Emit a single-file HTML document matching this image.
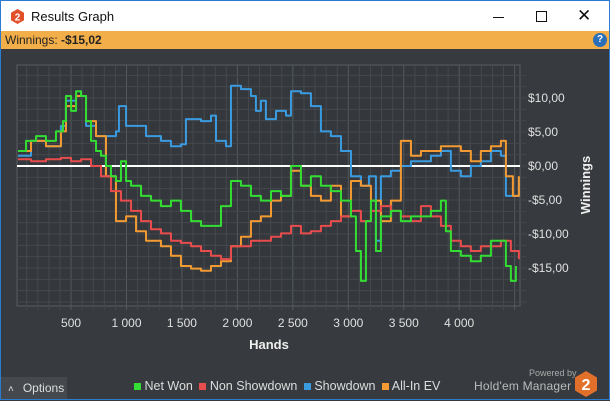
<!DOCTYPE html>
<html><head><meta charset="utf-8">
<style>
body{margin:0;width:610px;height:400px;overflow:hidden;font-family:"Liberation Sans",sans-serif;background:#373a3e;position:relative}
#win{position:absolute;left:0;top:0;width:608px;height:398px;border:1px solid #2b7bd0;background:#373a3e}
#title{position:absolute;left:0;top:0;width:608px;height:30px;background:#fff}
#bar{position:absolute;left:0;top:30px;width:608px;height:18px;background:#f2ae48;font-size:12px;color:#222;line-height:18px}
</style></head><body>
<div id="win">
<div id="title">
 <svg style="position:absolute;left:9px;top:8px" width="15" height="15"><polygon points="7.5,0 14,3.7 14,11.3 7.5,15 1,11.3 1,3.7" fill="#e2502b"/><text x="7.5" y="11.5" font-size="10" font-weight="bold" fill="#fff" text-anchor="middle" font-family="Liberation Sans">2</text></svg>
 <span style="position:absolute;left:30px;top:8px;font-size:13px;color:#111">Results Graph</span>
 <div style="position:absolute;left:492px;top:16px;width:11px;height:1px;background:#111"></div>
 <div style="position:absolute;left:535px;top:10px;width:9px;height:9px;border:1px solid #111"></div>
 <span style="position:absolute;left:576px;top:5px;font-size:17px;color:#111">✕</span>
</div>
<div id="bar"><span style="margin-left:4px">Winnings: <b>-$15,02</b></span>
 <div style="position:absolute;left:592px;top:2px;width:14px;height:14px;border-radius:50%;background:#2a6fb8;color:#fff;font-size:10px;font-weight:bold;text-align:center;line-height:14px">?</div>
</div>
<svg id="chart" style="position:absolute;left:0;top:0" width="608" height="398"></svg>
<div style="position:absolute;left:0;top:376px;width:66px;height:22px;background:#45494d;color:#ddd;font-size:12px;line-height:22px"><span style="margin-left:7px;font-size:10px">˄</span><span style="margin-left:9px">Options</span></div>
<div style="position:absolute;left:133px;top:378px;font-size:12.5px;color:#ddd;white-space:nowrap">
 <span><span style="display:inline-block;width:7px;height:7px;background:#33dd33"></span> Net Won</span>
 <span style="margin-left:3px"><span style="display:inline-block;width:7px;height:7px;background:#e84c4c"></span> Non Showdown</span>
 <span style="margin-left:3px"><span style="display:inline-block;width:7px;height:7px;background:#3a9be0"></span> Showdown</span>
 <span style="margin-left:3px"><span style="display:inline-block;width:7px;height:7px;background:#f39a32"></span> All-In EV</span>
</div>
<div style="position:absolute;left:528px;top:367px;font-size:9px;color:#aaa">Powered by</div>
<div style="position:absolute;left:473px;top:378px;font-size:12px;color:#bbb;letter-spacing:0.2px">Hold'em Manager</div>
<svg style="position:absolute;left:573px;top:370px" width="24" height="26"><polygon points="12,0 23,6.5 23,19.5 12,26 1,19.5 1,6.5" fill="#e2702b"/><text x="12" y="19" font-size="16" font-weight="bold" fill="#fff" text-anchor="middle" font-family="Liberation Sans">2</text></svg>
</div>
<script>
const xTicks=[500,1000,1500,2000,2500,3000,3500,4000];
const xTickLabels=["500","1 000","1 500","2 000","2 500","3 000","3 500","4 000"];
const yTicks=[10,5,0,-5,-10,-15];
const yTickLabels=["$10,00","$5,00","$0,00","-$5,00","-$10,00","-$15,00"];
const netHands=[22,94,184,274,364,427,454,500,545,590,635,680,725,770,815,860,905,950,996,1041,1131,1221,1311,1401,1491,1582,1672,1762,1852,1942,2032,2122,2212,2303,2393,2483,2573,2663,2753,2843,2934,3024,3069,3114,3159,3204,3249,3294,3384,3474,3565,3655,3745,3835,3880,3925,4015,4105,4195,4286,4376,4421,4466,4511];
const netWon=[2.2,3.7,4.4,3.7,5.1,6.6,10.3,8.1,11.0,10.3,6.6,3.7,2.2,1.5,0,-1.5,-2.2,0.7,-2.2,-2.9,-4.4,-5.1,-5.9,-5.1,-6.6,-8.1,-8.8,-8.8,-5.9,-2.2,-2.9,-4.4,-5.1,-3.7,-4.4,0,-2.9,-1.5,-2.9,-3.7,-5.1,-7.4,-12.5,-16.9,-8.1,-5.1,-12.5,-7.4,-6.6,-8.1,-7.4,-7.4,-6.6,-5.1,-9.6,-12.5,-13.2,-14.0,-13.2,-11.0,-11.0,-14.7,-16.9,-14.7];
const nsdHands=[22,139,274,409,500,590,680,770,860,950,1041,1131,1221,1311,1401,1491,1582,1672,1762,1852,1942,2032,2122,2212,2303,2393,2483,2573,2663,2753,2843,2934,3024,3114,3204,3294,3384,3474,3565,3655,3745,3835,3925,4015,4105,4195,4286,4376,4466,4538];
const nonShowdown=[1.0,0.7,1.0,1.2,0.7,1.0,0,-1.5,-3.7,-5.1,-6.6,-8.1,-9.3,-9.9,-11.0,-11.3,-11.8,-12.5,-13.2,-13.7,-11.8,-11.8,-11.0,-11.0,-10.4,-9.9,-8.8,-9.9,-9.6,-8.8,-8.1,-7.4,-6.6,-8.1,-6.6,-5.9,-6.6,-7.4,-8.1,-5.9,-7.4,-8.8,-11.0,-11.8,-12.5,-11.8,-11.8,-11.0,-12.5,-13.7];
const sdHands=[22,139,274,409,454,545,635,725,815,905,932,996,1086,1176,1311,1401,1491,1536,1582,1672,1762,1807,1897,1942,2032,2122,2167,2212,2257,2348,2438,2483,2573,2663,2753,2843,2934,3024,3114,3186,3249,3294,3384,3474,3565,3655,3745,3835,3925,4015,4105,4195,4286,4376,4421,4484,4538];
const showdown=[1.5,3.7,2.9,5.9,9.6,10.3,5.9,4.4,4.4,5.1,8.8,5.9,5.9,4.4,3.7,2.9,3.2,6.9,6.9,6.6,7.4,3.7,2.9,11.8,11.3,10.3,8.1,9.6,6.9,8.1,7.4,11.0,10.7,8.8,5.1,4.4,2.2,-1.5,-2.9,-1.5,-11.0,-1.5,-0.7,0,0.7,0.7,1.5,2.2,-0.7,-1.5,0,0.7,2.2,1.5,-4.4,-4.4,-1.9];
const aiHands=[22,139,274,409,454,545,635,725,815,905,996,1086,1176,1311,1401,1491,1582,1672,1762,1852,1942,2032,2122,2212,2303,2393,2483,2573,2663,2753,2843,2934,3024,3114,3204,3294,3384,3474,3565,3655,3745,3835,3925,4015,4105,4195,4286,4376,4421,4484,4538];
const allInEV=[2.2,3.7,2.9,5.1,8.8,10.3,6.6,4.4,-1.5,-8.1,-7.4,-9.6,-11.0,-11.8,-13.2,-14.7,-15.1,-15.4,-14.7,-14.0,-11.8,-10.4,-8.1,-7.4,-5.1,-4.4,-0.7,-2.9,-4.4,-5.1,-2.9,-7.4,-2.2,-2.9,-5.1,-8.1,-5.1,3.7,1.5,2.2,2.2,2.9,2.9,2.2,0.7,2.2,2.9,3.7,-1.5,-4.4,-1.5];
const L=16,R=519,T=64,B=305;
const xs=h=>14.6+h*0.1109, ys=v=>165-v*6.8;
const svg=document.getElementById('chart');const NS='http://www.w3.org/2000/svg';
function mk(t,a){const e=document.createElementNS(NS,t);for(const k in a)e.setAttribute(k,a[k]);svg.appendChild(e);return e;}
const bg=mk('rect',{x:L,y:T,width:R-L,height:B-T,fill:'#34383c',stroke:'#5a5e62'});


for(let h=100;h<4550;h+=100){const g=mk('line',{x1:xs(h),x2:xs(h),y1:T,y2:B+4,stroke:h%500?'#45494d':'#55595d','stroke-width':1});

}
for(let v=-20;v<=15;v+=5/3){const y=ys(v);if(y<T||y>B)continue;const g=mk('line',{x1:L,x2:R+6,y1:y,y2:y,stroke:'#45494d','stroke-width':1});

}
xTicks.forEach((h,i)=>{const t=mk('text',{x:xs(h),y:326,fill:'#e0e0e0','font-size':12,'text-anchor':'middle','font-family':'Liberation Sans'});t.textContent=xTickLabels[i];

});
yTicks.forEach((v,i)=>{const t=mk('text',{x:527,y:ys(v)+4,fill:'#e0e0e0','font-size':12,'font-family':'Liberation Sans'});t.textContent=yTickLabels[i];

});
const zl=mk('line',{x1:L,x2:R,y1:ys(0),y2:ys(0),stroke:'#fff','stroke-width':2});


function series(hs,vs,c,n){const pts=[];hs.forEach((h,i)=>{if(i>0)pts.push(xs(h)+','+ys(vs[i-1]));pts.push(xs(h)+','+ys(vs[i]));});
const p=mk('polyline',{points:pts.join(' '),fill:'none',stroke:c,'stroke-width':2,'stroke-linejoin':'round'});

}
series(sdHands,showdown,'#3a9be0','showdown-line');
series(aiHands,allInEV,'#f39a32','all-in-ev-line');
series(nsdHands,nonShowdown,'#e84c4c','non-showdown-line');
series(netHands,netWon,'#33dd33','net-won-line');
const xt=mk('text',{x:268,y:348,fill:'#eee','font-size':13,'font-weight':'bold','text-anchor':'middle','font-family':'Liberation Sans'});xt.textContent='Hands';


const yt=mk('text',{x:0,y:0,fill:'#eee','font-size':13,'font-weight':'bold','text-anchor':'middle','font-family':'Liberation Sans',transform:'translate(589,184) rotate(-90)'});yt.textContent='Winnings';


</script>
</body></html>
